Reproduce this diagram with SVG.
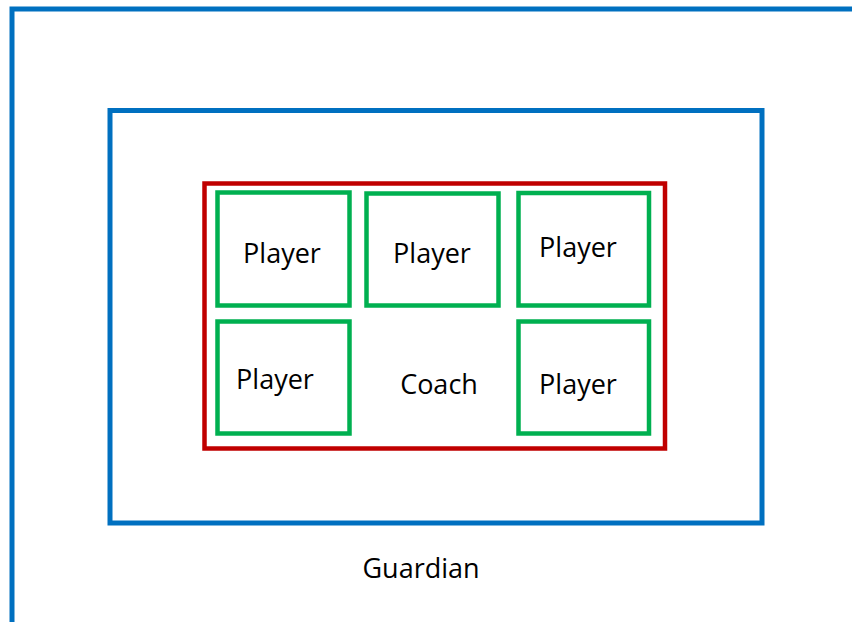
<svg xmlns="http://www.w3.org/2000/svg" width="852" height="622" viewBox="0 0 852 622">
<style>
.blue{fill:none;stroke:#0070C0;stroke-width:5}
.red{fill:none;stroke:#C00000;stroke-width:4.5}
.green{fill:none;stroke:#00B050;stroke-width:4.5}
text{font-family:"Open Sans","Liberation Sans",Arial,sans-serif;font-size:27px;fill:#000;text-anchor:middle}
</style>
<rect width="852" height="622" fill="#fff"/>
<g id="guardian">
<path class="blue" d="M12 622 V9 H852"/>
<text x="421" y="578">Guardian</text>
</g>
<g id="middle">
<rect class="blue" x="110" y="110.5" width="652" height="412.5"/>
</g>
<g id="coach">
<rect class="red" x="204.5" y="183.5" width="460.5" height="265"/>
<text x="439" y="394">Coach</text>
</g>
<g id="player1">
<rect class="green" x="217.5" y="192.5" width="132" height="113"/>
<text x="282" y="263">Player</text>
</g>
<g id="player2">
<rect class="green" x="366.5" y="193.5" width="132" height="112"/>
<text x="432" y="263">Player</text>
</g>
<g id="player3">
<rect class="green" x="518.5" y="193" width="130.5" height="112.5"/>
<text x="578" y="257">Player</text>
</g>
<g id="player4">
<rect class="green" x="217.5" y="321.5" width="132" height="112"/>
<text x="275" y="389">Player</text>
</g>
<g id="player5">
<rect class="green" x="518.5" y="321.5" width="130.5" height="112"/>
<text x="578" y="394">Player</text>
</g>
<g id="connectors"/>
</svg>
